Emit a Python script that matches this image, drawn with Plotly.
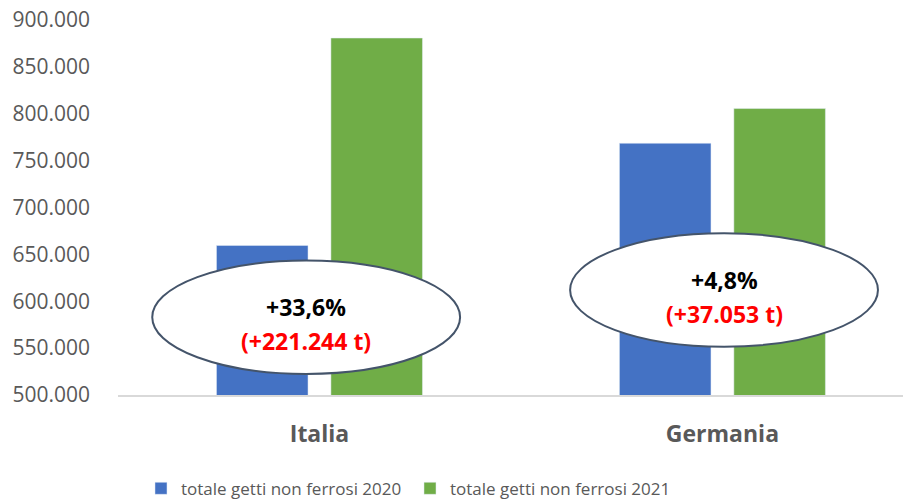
import plotly.graph_objects as go

categories = ["Italia", "Germania"]
series_names = ["totale getti non ferrosi 2020", "totale getti non ferrosi 2021"]
values_2020 = [659500, 768500]
values_2021 = [880744, 805553]
pct_labels = ["+33,6%", "+4,8%"]
delta_labels = ["(+221.244 t)", "(+37.053 t)"]
y_ticks = [500000, 550000, 600000, 650000, 700000, 750000, 800000, 850000, 900000]
y_tick_text = ["500.000", "550.000", "600.000", "650.000", "700.000", "750.000", "800.000", "850.000", "900.000"]

# callout ellipse placement (offset from category index, centre value)
callout_dx = [-0.033, 0.004]
callout_cy = [583000, 612000]
callout_rx = 0.382
callout_ry = 60500

colors = ["#4472C4", "#70AD47"]
gray = "#595959"

fig = go.Figure()
fig.add_trace(go.Bar(x=categories, y=values_2020, name=series_names[0], marker_color=colors[0]))
fig.add_trace(go.Bar(x=categories, y=values_2021, name=series_names[1], marker_color=colors[1]))

for i in range(len(categories)):
    cx = i + callout_dx[i]
    cy = callout_cy[i]
    fig.add_shape(type="circle", xref="x", yref="y",
                  x0=cx - callout_rx, x1=cx + callout_rx,
                  y0=cy - callout_ry, y1=cy + callout_ry,
                  fillcolor="white", line=dict(color="#44546A", width=2), layer="above")
    fig.add_annotation(x=cx, y=cy, xref="x", yref="y", text="<b>%s</b>" % pct_labels[i],
                       showarrow=False, yshift=10,
                       font=dict(family="Open Sans", size=23, color="black"))
    fig.add_annotation(x=cx, y=cy, xref="x", yref="y", text="<b>%s</b>" % delta_labels[i],
                       showarrow=False, yshift=-24,
                       font=dict(family="Open Sans", size=23, color="#FF0000"))

# page body has an 8px default margin, so the figure is sized to fit inside the window
fig.update_layout(
    width=903, height=493,
    margin=dict(l=110, r=0, t=12, b=106, autoexpand=False),
    paper_bgcolor="white", plot_bgcolor="white",
    barmode="group", bargap=0.432, bargroupgap=0.2,
    showlegend=True,
    legend=dict(orientation="h", x=0.029, xanchor="left", y=-0.25, yanchor="middle",
                font=dict(family="Open Sans", size=17, color=gray),
                entrywidth=224, entrywidthmode="pixels"),
    font=dict(family="Open Sans", color=gray),
)
fig.update_xaxes(range=[-0.5, 1.468], showline=True, linecolor="#D9D9D9", linewidth=1.5,
                 showgrid=False, ticks="", ticklabelstandoff=18, automargin=False,
                 tickfont=dict(family="Open Sans", size=23, color=gray),
                 tickvals=categories, ticktext=["<b>%s</b>" % c for c in categories])
fig.update_yaxes(range=[500000, 900000], tickvals=y_ticks, ticktext=y_tick_text,
                 showgrid=False, zeroline=False, showline=False, ticks="",
                 ticklabelstandoff=27, automargin=False, ticklabeloverflow="allow",
                 tickfont=dict(family="Open Sans", size=21, color=gray))

fig.write_html("out.html")
